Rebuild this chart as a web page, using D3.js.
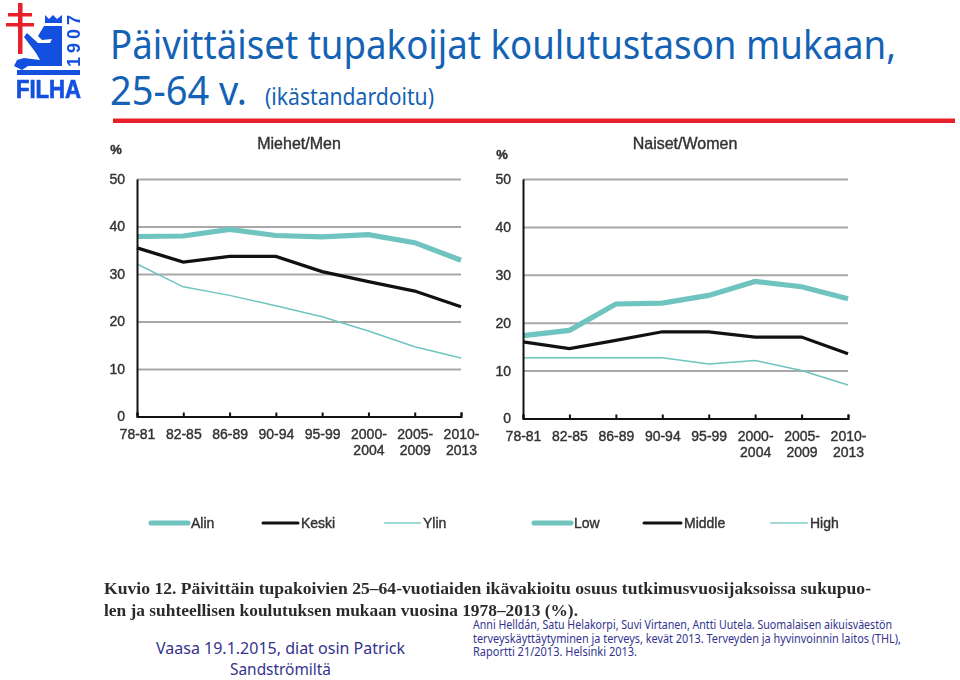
<!DOCTYPE html>
<html>
<head>
<meta charset="utf-8">
<style>
    html, body { margin: 0; padding: 0; background: #fff; }
    svg { display: block; }
    .chart text { font-family: "Liberation Sans", Arial, sans-serif; fill: #333; font-size: 14px; stroke: #333; stroke-width: 0.4px; }
    .grid line { stroke: #a8a8a8; stroke-width: 2; }
    .grid path { display: none; }
    .axis path, .axis line { stroke: #111; stroke-width: 2; fill: none; }
    .head { font-family: "Noto Sans", sans-serif; fill: #1462b4; }
    .foot { font-family: "Noto Sans", sans-serif; fill: #33338f; }
    .caption { font-family: "Liberation Serif", serif; font-weight: bold; fill: #2b2b2b; font-size: 17px; }
</style>
</head>
<body>
<div id="containerChart"></div>
<script src="https://cdn.jsdelivr.net/npm/d3@7"></script>
<script>
    var periods = ["78-81", "82-85", "86-89", "90-94", "95-99", "2000-2004", "2005-2009", "2010-2013"];
    var yTicks = [0, 10, 20, 30, 40, 50];

    var menLow = [37.9, 38.0, 39.4, 38.1, 37.8, 38.3, 36.6, 32.9];
    var menMiddle = [35.5, 32.5, 33.7, 33.7, 30.5, 28.4, 26.4, 23.1];
    var menHigh = [32.1, 27.3, 25.5, 23.3, 21.0, 18.0, 14.7, 12.3];

    var womenLow = [17.3, 18.4, 23.9, 24.1, 25.7, 28.6, 27.5, 25.0];
    var womenMiddle = [16.0, 14.6, 16.3, 18.1, 18.1, 17.0, 17.0, 13.5];
    var womenHigh = [12.7, 12.7, 12.7, 12.7, 11.4, 12.1, 10.0, 7.0];

    var seriesStyle = [
        { color: "#6fc4bf", width: 5.2 },
        { color: "#111111", width: 3.2 },
        { color: "#6fc4bf", width: 1.5 }
    ];

    var svg = d3.select("#containerChart")
        .append("svg")
        .attr("width", 960)
        .attr("height", 680);

    // Logo
    var logo = svg.append("g").style("filter", "blur(0.3px)");
    var blue = "#1450e0";
    logo.append("path").attr("fill", blue)
        .attr("d", "M44,26 L62,26 L62,66 L28,66 L22,70 L14,66 L17,60 L24,58 L40,60 L36,53 L24,37 L27,33 L38,43 L50,43 L52,39 L42,40 L38,36 Z");
    logo.append("path").attr("fill", blue)
        .attr("d", "M45,23 L45,15 L49,19 L53,15 L57,19 L62,15 L62,23 Z");
    logo.append("rect").attr("x", 17).attr("y", 70).attr("width", 63).attr("height", 5).attr("fill", blue);
    logo.append("rect").attr("x", 18).attr("y", 3).attr("width", 4.5).attr("height", 51).attr("fill", "#e8202a");
    logo.append("rect").attr("x", 8).attr("y", 13).attr("width", 24).attr("height", 3.5).attr("fill", "#e8202a");
    logo.append("rect").attr("x", 6).attr("y", 23).attr("width", 28).attr("height", 3.5).attr("fill", "#e8202a");
    logo.append("text")
        .attr("transform", "translate(80,67) rotate(-90)")
        .attr("font-family", "Liberation Sans").attr("font-weight", "bold").attr("font-size", 18)
        .attr("textLength", 52).attr("fill", blue).text("1907");
    logo.append("text")
        .attr("x", 16).attr("y", 98)
        .attr("font-family", "Liberation Sans").attr("font-weight", "bold").attr("font-size", 25)
        .attr("stroke", blue).attr("stroke-width", 0.7)
        .attr("textLength", 65).attr("lengthAdjust", "spacingAndGlyphs").attr("fill", blue).text("FILHA");

    // Heading
    svg.append("text").attr("class", "head")
        .attr("x", 110).attr("y", 59).attr("font-size", 40)
        .attr("textLength", 786).attr("lengthAdjust", "spacingAndGlyphs")
        .text("Päivittäiset tupakoijat koulutustason mukaan,");
    svg.append("text").attr("class", "head")
        .attr("x", 110).attr("y", 105).attr("font-size", 40)
        .attr("textLength", 137).attr("lengthAdjust", "spacingAndGlyphs")
        .text("25-64 v.");
    svg.append("text").attr("class", "head")
        .attr("x", 265).attr("y", 105).attr("font-size", 23)
        .attr("textLength", 169).attr("lengthAdjust", "spacingAndGlyphs")
        .text("(ikästandardoitu)");
    svg.append("rect").attr("x", 113).attr("y", 118.5).attr("width", 842).attr("height", 4.5).attr("fill", "#e8202a");

    function drawChart(opts) {
        var g = svg.append("g").attr("class", "chart").style("filter", "blur(0.5px)");

        var x = d3.scalePoint().domain(periods).range([opts.left, opts.right]);
        var y = d3.scaleLinear().domain([0, 50]).range([opts.bottom, opts.top]);

        // gridlines
        g.append("g").attr("class", "grid")
            .attr("transform", "translate(" + opts.left + ",0)")
            .call(d3.axisLeft(y).tickValues(yTicks.slice(1)).tickSize(-(opts.right - opts.left)).tickFormat(""));

        var line = d3.line()
            .x(function (d, i) { return x(periods[i]); })
            .y(function (d) { return y(d); });

        // High first so the thick lines sit on top
        [2, 1, 0].forEach(function (k) {
            g.append("path")
                .datum(opts.series[k])
                .attr("fill", "none")
                .attr("stroke", seriesStyle[k].color)
                .attr("stroke-width", seriesStyle[k].width)
                .attr("d", line);
        });

        // Y axis
        var yAxis = g.append("g").attr("class", "axis")
            .attr("transform", "translate(" + opts.left + ",0)")
            .call(d3.axisLeft(y).tickValues(yTicks).tickSize(0).tickPadding(12));
        yAxis.selectAll("text").style("text-anchor", "end");

        // X axis
        var xAxis = g.append("g").attr("class", "axis")
            .attr("transform", "translate(0," + opts.bottom + ")")
            .call(d3.axisBottom(x).tickSize(-4).tickPadding(10).tickFormat(""));
        xAxis.selectAll(".tick text").each(function (d) {
            var parts = d.length > 5 ? [d.slice(0, 5), d.slice(5)] : [d];
            var t = d3.select(this).attr("y", 13);
            parts.forEach(function (p, i) {
                t.append("tspan").attr("x", 0).attr("dy", i ? 16 : 9).text(p);
            });
        });

        g.append("text").attr("x", opts.pctX).attr("y", opts.pctY)
            .attr("text-anchor", "middle").attr("font-weight", "bold").style("font-size", "13px").text("%");
        g.append("text").attr("x", opts.titleX).attr("y", 149)
            .attr("text-anchor", "middle").style("font-size", "16px").text(opts.title);

        // Legend
        opts.legend.forEach(function (d, k) {
            g.append("line")
                .attr("x1", d.x1).attr("x2", d.x2).attr("y1", 523).attr("y2", 523)
                .attr("stroke", k === 2 ? "#9fd8d4" : seriesStyle[k].color)
                .attr("stroke-width", k === 0 ? 5 : k === 1 ? 3 : 2)
                .attr("stroke-linecap", "round");
            g.append("text").attr("x", d.x2 + 3).attr("y", 528).text(d.label);
        });
    }

    drawChart({
        left: 137, right: 461, top: 179, bottom: 416.5,
        series: [menLow, menMiddle, menHigh],
        title: "Miehet/Men", titleX: 299, pctX: 116, pctY: 154,
        legend: [
            { label: "Alin", x1: 151, x2: 188 },
            { label: "Keski", x1: 263, x2: 298 },
            { label: "Ylin", x1: 385, x2: 420 }
        ]
    });

    drawChart({
        left: 523, right: 848, top: 179, bottom: 418.5,
        series: [womenLow, womenMiddle, womenHigh],
        title: "Naiset/Women", titleX: 685, pctX: 502, pctY: 159,
        legend: [
            { label: "Low", x1: 534, x2: 571 },
            { label: "Middle", x1: 644, x2: 681 },
            { label: "High", x1: 771, x2: 807 }
        ]
    });

    // Caption taken from the report
    var caption = svg.append("g").style("filter", "blur(0.4px)");
    caption.append("text").attr("class", "caption")
        .attr("x", 104).attr("y", 594)
        .attr("textLength", 767).attr("lengthAdjust", "spacingAndGlyphs")
        .text("Kuvio 12.  Päivittäin tupakoivien 25–64-vuotiaiden ikävakioitu osuus tutkimusvuosijaksoissa sukupuo-");
    caption.append("text").attr("class", "caption")
        .attr("x", 104).attr("y", 616)
        .attr("textLength", 474).attr("lengthAdjust", "spacingAndGlyphs")
        .text("len ja suhteellisen koulutuksen mukaan vuosina 1978–2013 (%).");

    // Footer
    var footLeft = ["Vaasa 19.1.2015, diat osin Patrick", "Sandströmiltä"];
    var footRight = [
        "Anni Helldán, Satu Helakorpi, Suvi Virtanen, Antti Uutela. Suomalaisen aikuisväestön",
        "terveyskäyttäytyminen ja terveys, kevät 2013. Terveyden ja hyvinvoinnin laitos (THL),",
        "Raportti 21/2013.  Helsinki 2013."
    ];
    var footRightLen = [419, 428, 164];

    footLeft.forEach(function (s, i) {
        svg.append("text").attr("class", "foot")
            .attr("x", 280.5).attr("y", 654 + i * 21)
            .attr("text-anchor", "middle").attr("font-size", 16.5)
            .attr("textLength", i ? 101 : 249).attr("lengthAdjust", "spacingAndGlyphs")
            .text(s);
    });
    footRight.forEach(function (s, i) {
        svg.append("text").attr("class", "foot")
            .attr("x", 473).attr("y", 629 + i * 13.5)
            .attr("font-size", 12.5)
            .attr("textLength", footRightLen[i]).attr("lengthAdjust", "spacingAndGlyphs")
            .text(s);
    });
</script>
</body>
</html>
